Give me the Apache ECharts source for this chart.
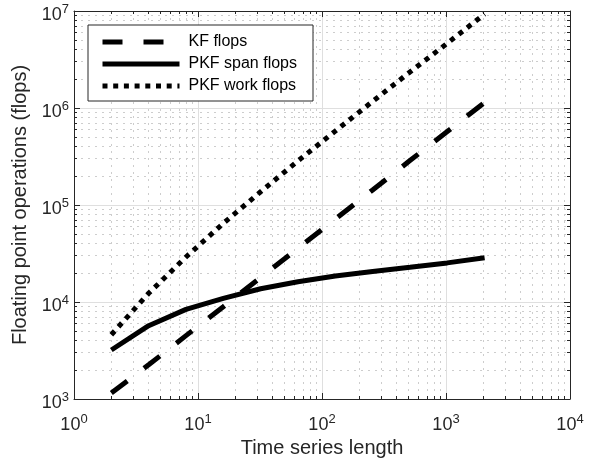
<!DOCTYPE html>
<html>
<head>
<meta charset="utf-8">
<script src="https://cdn.jsdelivr.net/npm/echarts@6/dist/echarts.min.js"></script>
<style>
html, body { margin: 0; padding: 0; background: #fff; }
#chart { width: 599px; height: 458px; }
</style>
</head>
<body>
<div id="chart"></div>
<script>
// time series lengths (x) and flop counts
var lengths = [2, 4, 8, 16, 32, 64, 128, 256, 512, 1024, 2048];
var kfFlops = [1150, 2250, 4500, 8950, 17900, 35800, 71600, 143000, 287000, 573000, 1140000];
var pkfSpanFlops = [3200, 5700, 8400, 10900, 13700, 16200, 18500, 20600, 22800, 25300, 28600];
var pkfWorkFlops = [4600, 12300, 29100, 64700, 137000, 285000, 578000, 1170000, 2350000, 4650000, 9300000];
var seriesNames = ['KF flops', 'PKF span flops', 'PKF work flops'];
var xTickExps = [0, 1, 2, 3, 4];
var yTickExps = [3, 4, 5, 6, 7];

var ink = '#262626';
var font = 'Liberation Sans';

function pairs(ys) {
	return lengths.map(function (x, i) { return [x, ys[i]]; });
}

function powLabel(v) {
	return '{b|10}{e|' + Math.round(Math.log10(v)) + '}';
}

var labelRich = {
	b: { fontSize: 18, color: ink, fontFamily: font },
	e: { fontSize: 13, color: ink, fontFamily: font, padding: [0, 0, 11, 0] }
};

function logAxis(pos, exps, showLabel) {
	return {
		type: 'log',
		logBase: 10,
		position: pos,
		min: Math.pow(10, exps[0]),
		max: Math.pow(10, exps[exps.length - 1]),
		axisLine: { show: true, onZero: false, lineStyle: { color: ink, width: 1 } },
		axisTick: { show: true, inside: true, length: 6, lineStyle: { color: ink } },
		minorTick: { show: true, splitNumber: 9, length: 3, lineStyle: { color: ink } },
		axisLabel: { show: showLabel, formatter: powLabel, rich: labelRich, margin: 6 },
		splitLine: { show: showLabel, lineStyle: { color: '#dfdfdf', width: 1 } },
		minorSplitLine: { show: showLabel, lineStyle: { color: '#cdcdcd', type: [2, 5], width: 1 } }
	};
}

var chart = echarts.init(document.getElementById('chart'));

var xMain = logAxis('bottom', xTickExps, true);
xMain.axisLabel.margin = 14;
xMain.name = 'Time series length';
xMain.nameLocation = 'middle';
xMain.nameGap = 29;
xMain.nameTextStyle = { fontSize: 20, color: ink, fontFamily: font };

var yMain = logAxis('left', yTickExps, true);
yMain.axisLabel.margin = 5;
yMain.axisLabel.padding = [8, 0, 0, 0];
yMain.name = 'Floating point operations (flops)';
yMain.nameLocation = 'middle';
yMain.nameGap = 36;
yMain.nameTextStyle = { fontSize: 20, color: ink, fontFamily: font };

chart.setOption({
	animation: false,
	backgroundColor: '#fff',
	grid: { left: 74, right: 29, top: 11, bottom: 59, containLabel: false, outerBoundsMode: 'none' },
	legend: {
		orient: 'vertical',
		left: 88,
		top: 25,
		data: seriesNames,
		backgroundColor: '#fff',
		borderColor: ink,
		borderWidth: 1,
		borderRadius: 0,
		padding: [9, 16, 7, 12],
		itemWidth: 77,
		itemHeight: 14,
		itemGap: 6,
		itemStyle: { opacity: 0, color: 'rgba(0,0,0,0)', borderWidth: 0 },
		lineStyle: { width: 5 },
		textStyle: { fontSize: 16, color: '#000', fontFamily: font, padding: [0, 0, 0, 4] }
	},
	xAxis: [xMain, logAxis('top', xTickExps, false)],
	yAxis: [yMain, logAxis('right', yTickExps, false)],
	series: [
		{
			name: seriesNames[0],
			type: 'line',
			data: pairs(kfFlops),
			showSymbol: false,
			symbol: 'none',
			color: '#000',
			lineStyle: { color: '#000', width: 5, type: [20, 21], cap: 'butt' },
			z: 3
		},
		{
			name: seriesNames[1],
			type: 'line',
			data: pairs(pkfSpanFlops),
			showSymbol: false,
			symbol: 'none',
			color: '#000',
			lineStyle: { color: '#000', width: 5, type: 'solid' },
			z: 3
		},
		{
			name: seriesNames[2],
			type: 'line',
			data: pairs(pkfWorkFlops),
			showSymbol: false,
			symbol: 'none',
			color: '#000',
			lineStyle: { color: '#000', width: 5, type: [5, 5.7], cap: 'butt' },
			z: 3
		}
	]
});
</script>
</body>
</html>
